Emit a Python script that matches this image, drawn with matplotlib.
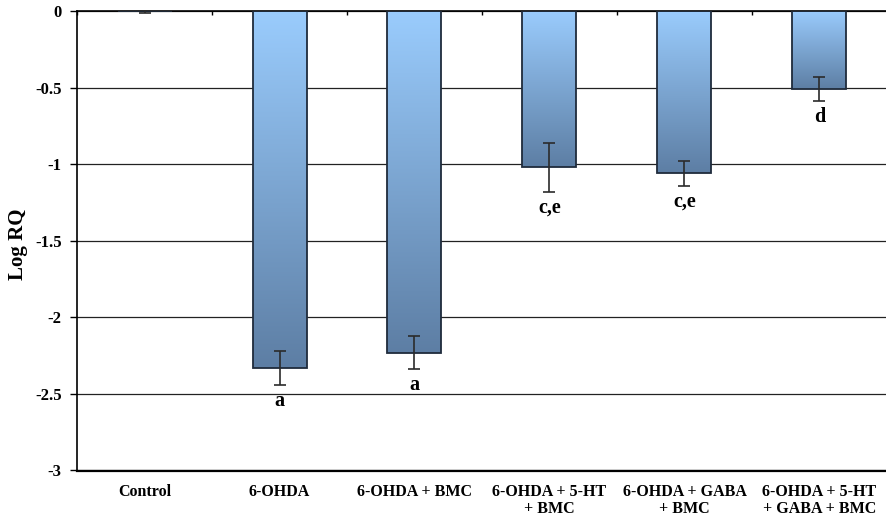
import numpy as np
import matplotlib
matplotlib.use("Agg")
import matplotlib.pyplot as plt
from matplotlib.colors import LinearSegmentedColormap

# Group means (log relative quantity), SEM and significance letters
groups = ["Control", "6-OHDA", "6-OHDA + BMC", "6-OHDA + 5-HT\n+ BMC",
          "6-OHDA + GABA\n+ BMC", "6-OHDA + 5-HT\n+ GABA + BMC"]
log_rq = [0.0, -2.33, -2.23, -1.02, -1.06, -0.51]
sem = [0.01, 0.11, 0.11, 0.16, 0.08, 0.08]
sig_labels = ["", "a", "a", "c,e", "c,e", "d"]
y_ticks = [0, -0.5, -1, -1.5, -2, -2.5, -3]
y_tick_labels = ["0", "-0.5", "-1", "-1.5", "-2", "-2.5", "-3"]

plt.rcParams["font.family"] = ["Liberation Serif", "DejaVu Serif"]
plt.rcParams["font.weight"] = "bold"

W, H = 887, 519
fig = plt.figure(figsize=(W / 100, H / 100), dpi=100)
left, right, top, bottom = 77, 887, 11, 470.5
ax = fig.add_axes([left / W, 1 - bottom / H, (right - left) / W, (bottom - top) / H])

x = np.arange(len(groups))
width = 0.4
cmap = LinearSegmentedColormap.from_list("bar_grad", ["#9ACCFD", "#5D7EA4"])

bars = ax.bar(x, log_rq, width, facecolor="none", edgecolor="#1F2B3B",
              linewidth=1.3, zorder=3)
grad = np.linspace(0, 1, 256).reshape(-1, 1)
for b, v in zip(bars, log_rq):
    if v == 0:
        continue
    ax.imshow(grad, cmap=cmap, aspect="auto", origin="upper",
              extent=[b.get_x(), b.get_x() + b.get_width(), v, 0], zorder=2)

ax.errorbar(x, log_rq, yerr=sem, fmt="none", ecolor="#2B2B2B",
            elinewidth=1.2, capsize=4, capthick=1.2, zorder=4)

for xi, v, e, lab in zip(x, log_rq, sem, sig_labels):
    if lab:
        ax.annotate(lab, (xi, v - e), xytext=(0, -15), textcoords="offset points",
                    ha="center", va="baseline", fontsize=14.5, fontweight="bold")

ax.set_xlim(-0.5, len(groups) - 0.5)
ax.set_ylim(-3, 0)
ax.set_yticks(y_ticks)
ax.set_yticklabels(y_tick_labels, fontsize=12, fontweight="bold")
ax.set_xticks(x)
ax.set_xticklabels(groups, fontsize=11.5, fontweight="bold", linespacing=1.12)
ax.tick_params(axis="x", which="major", length=0, pad=9.5)
ax.tick_params(axis="y", direction="out", length=5, width=1, pad=6)

# category separators on the zero line
ax.set_xticks(np.arange(-0.5, len(groups), 1), minor=True)
ax.tick_params(axis="x", which="minor", top=True, bottom=False,
               direction="in", length=3, width=1)

ax.yaxis.grid(True, color="#222222", linewidth=0.9, zorder=0)
ax.set_axisbelow(True)

for s in ("left", "top"):
    ax.spines[s].set_linewidth(1.2)
ax.spines["bottom"].set_linewidth(1.6)
ax.spines["right"].set_visible(False)

ax.set_ylabel("Log RQ", fontsize=15, fontweight="bold")
ax.yaxis.set_label_coords((28 - left) / (right - left), 1 - (244 - top) / (bottom - top))

fig.savefig("out.png", dpi=100)
